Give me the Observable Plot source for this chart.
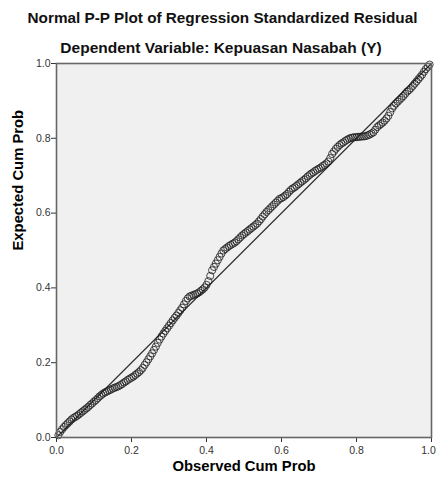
<!DOCTYPE html>
<html><head><meta charset="utf-8">
<script src="https://cdn.jsdelivr.net/npm/d3@7"></script>
<script src="https://cdn.jsdelivr.net/npm/@observablehq/plot@0.6"></script>
<style>
body{margin:0;background:#fff;font-family:"Liberation Sans",Arial,sans-serif;}
#head{position:relative;width:437px;height:57px;}
#t1{position:absolute;top:9px;left:0;width:445px;text-align:center;font-size:15.3px;font-weight:bold;color:#111;white-space:nowrap;line-height:18px;}
#t2{position:absolute;top:39px;left:0;width:442px;text-align:center;font-size:15.5px;font-weight:bold;color:#111;white-space:nowrap;line-height:18px;}
</style></head>
<body>
<div id="head"><div id="t1"></div><div id="t2"></div></div>
<div id="chart"></div>
<script>
const titleText = "Normal P-P Plot of Regression Standardized Residual";
const subtitleText = "Dependent Variable: Kepuasan Nasabah (Y)";
const xLabel = "Observed Cum Prob";
const yLabel = "Expected Cum Prob";
const tickValues = [0, 0.2, 0.4, 0.6, 0.8, 1.0];
const refLine = [0, 1];
const observed = [
0.005,0.010,0.015,0.020,0.025,0.030,0.035,0.040,0.045,0.050,
0.055,0.060,0.065,0.070,0.075,0.080,0.085,0.090,0.095,0.100,
0.105,0.110,0.115,0.120,0.125,0.130,0.135,0.140,0.145,0.150,
0.155,0.160,0.165,0.170,0.175,0.180,0.185,0.190,0.195,0.200,
0.205,0.210,0.215,0.220,0.225,0.230,0.235,0.240,0.245,0.250,
0.255,0.260,0.265,0.270,0.275,0.280,0.285,0.290,0.295,0.300,
0.305,0.310,0.315,0.320,0.325,0.330,0.335,0.340,0.345,0.350,
0.355,0.360,0.365,0.370,0.375,0.380,0.385,0.390,0.395,0.400,
0.405,0.410,0.415,0.420,0.425,0.430,0.435,0.440,0.445,0.450,
0.455,0.460,0.465,0.470,0.475,0.480,0.485,0.490,0.495,0.500,
0.505,0.510,0.515,0.520,0.525,0.530,0.535,0.540,0.545,0.550,
0.555,0.560,0.565,0.570,0.575,0.580,0.585,0.590,0.595,0.600,
0.605,0.610,0.615,0.620,0.625,0.630,0.635,0.640,0.645,0.650,
0.655,0.660,0.665,0.670,0.675,0.680,0.685,0.690,0.695,0.700,
0.705,0.710,0.715,0.720,0.725,0.730,0.735,0.740,0.745,0.750,
0.755,0.760,0.765,0.770,0.775,0.780,0.785,0.790,0.795,0.800,
0.805,0.810,0.815,0.820,0.825,0.830,0.835,0.840,0.845,0.850,
0.855,0.860,0.865,0.870,0.875,0.880,0.885,0.890,0.895,0.900,
0.905,0.910,0.915,0.920,0.925,0.930,0.935,0.940,0.945,0.950,
0.955,0.960,0.965,0.970,0.975,0.980,0.985,0.990,0.995];
const expected = [
0.006,0.015,0.022,0.028,0.033,0.038,0.043,0.048,0.052,0.055,
0.058,0.062,0.066,0.070,0.074,0.078,0.082,0.087,0.091,0.096,
0.100,0.105,0.110,0.114,0.118,0.121,0.123,0.126,0.128,0.131,
0.133,0.135,0.137,0.140,0.143,0.147,0.150,0.154,0.157,0.160,
0.163,0.167,0.171,0.175,0.180,0.186,0.194,0.201,0.209,0.217,
0.225,0.234,0.243,0.253,0.262,0.270,0.278,0.285,0.292,0.299,
0.306,0.313,0.320,0.326,0.333,0.340,0.347,0.356,0.365,0.372,
0.377,0.379,0.381,0.383,0.385,0.388,0.392,0.396,0.401,0.408,
0.418,0.432,0.447,0.456,0.465,0.474,0.483,0.492,0.500,0.504,
0.508,0.512,0.515,0.518,0.521,0.525,0.530,0.535,0.540,0.544,
0.548,0.552,0.556,0.560,0.564,0.568,0.572,0.578,0.584,0.591,
0.597,0.603,0.608,0.613,0.618,0.623,0.628,0.633,0.638,0.640,
0.643,0.647,0.651,0.657,0.662,0.666,0.669,0.673,0.677,0.681,
0.685,0.689,0.693,0.698,0.702,0.706,0.709,0.713,0.716,0.719,
0.722,0.726,0.729,0.733,0.738,0.747,0.758,0.765,0.772,0.777,
0.782,0.786,0.789,0.793,0.796,0.799,0.801,0.802,0.803,0.803,
0.804,0.804,0.805,0.805,0.806,0.808,0.810,0.813,0.816,0.823,
0.830,0.834,0.838,0.842,0.847,0.853,0.860,0.870,0.880,0.887,
0.893,0.898,0.903,0.908,0.913,0.919,0.925,0.929,0.934,0.940,
0.946,0.952,0.958,0.964,0.970,0.978,0.985,0.991,0.997];
document.getElementById("t1").textContent = titleText;
document.getElementById("t2").textContent = subtitleText;
const pts = observed.map((x, i) => ({x, y: expected[i]}));
const diag = refLine.map(v => ({x: v, y: v}));
const fmt = d3.format(".1f");
const lastTick = tickValues[tickValues.length - 1];
const chart = Plot.plot({
  width: 437, height: 424,
  marginLeft: 56, marginRight: 6, marginTop: 6, marginBottom: 44,
  style: {fontFamily: "'Liberation Sans', Arial, sans-serif", background: "#fff"},
  x: {domain: [0, 1]},
  y: {domain: [0, 1]},
  marks: [
    Plot.frame({fill: "#f0f0f0"}),
    Plot.axisX({ticks: tickValues, tickFormat: d => d === lastTick ? "" : fmt(d), tickSize: 5, fontSize: 10.5, color: "#333", label: null, tickPadding: 4}),
    Plot.axisX({ticks: [lastTick], tickFormat: fmt, tickSize: 0, dx: -3, dy: 5, fontSize: 10.5, color: "#333", label: null, tickPadding: 4}),
    Plot.axisY({ticks: tickValues, tickFormat: fmt, tickSize: 5, fontSize: 10.5, color: "#333", label: null, tickPadding: 1}),
    Plot.line(diag, {x: "x", y: "y", stroke: "#333", strokeWidth: 1.2}),
    Plot.dot(pts, {x: "x", y: "y", r: 3.6, stroke: "#1a1a1a", strokeOpacity: 0.78, strokeWidth: 1, fill: "none"}),
    Plot.frame({stroke: "#666", strokeWidth: 1.6}),
    Plot.text([xLabel], {text: d => d, frameAnchor: "bottom", dy: 33, fontWeight: "bold", fontSize: 14.8, fill: "#000"}),
    Plot.text([yLabel], {text: d => d, frameAnchor: "left", dx: -38, rotate: -90, fontWeight: "bold", fontSize: 14.8, fill: "#000"})
  ]
});
document.getElementById("chart").appendChild(chart);
</script>
</body></html>
